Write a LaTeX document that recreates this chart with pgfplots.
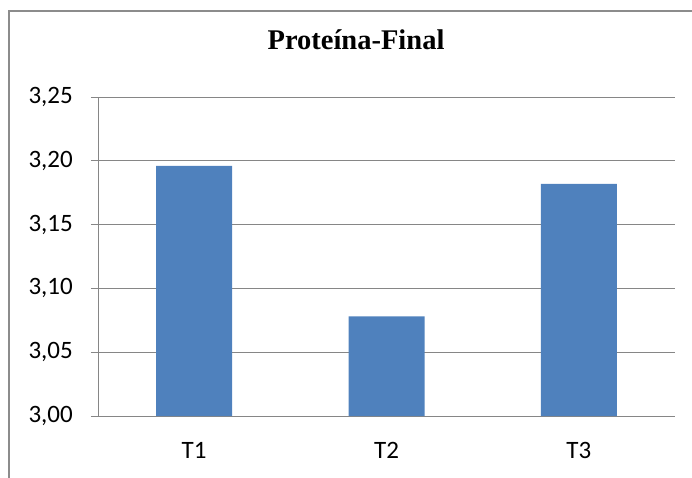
\documentclass[border=0pt]{standalone}
\usepackage{fontspec}
\setmainfont{Carlito}
\newfontfamily\titlefont{Liberation Serif}
\usepackage{pgfplots}
\pgfplotsset{compat=1.18}
\definecolor{barblue}{HTML}{4F81BD}
\definecolor{gridgray}{HTML}{868686}
\definecolor{framegray}{HTML}{8C8C8C}
\begin{document}
\begin{tikzpicture}[x=1pt,y=1pt]
\path[use as bounding box] (0,0) rectangle (692,477);
\begin{scope}
\clip (0,0) rectangle (692,477);
\draw[framegray, line width=2.5pt] (9,-20) -- (9,466) -- (720,466);
\end{scope}
\node[anchor=base, font=\titlefont\bfseries\fontsize{28.5}{33}\selectfont] at (356,427) {Proteína-Final};
\begin{axis}[
  at={(98pt,61pt)}, anchor=south west,
  scale only axis, width=577pt, height=319pt,
  xmin=0.5, xmax=3.5, ymin=3.0, ymax=3.25,
  ytick={3.00,3.05,3.10,3.15,3.20,3.25},
  xtick={1,2,3}, xticklabels={T1,T2,T3},
  x tick style={draw=none},
  extra x ticks={0.5,1.5,2.5,3.5},
  extra x tick labels={},
  extra x tick style={grid=none, tick style={draw=gridgray, line width=1pt}, major tick length=7pt},
  y tick style={draw=gridgray, line width=1pt},
  major tick length=7pt,
  tick align=outside,
  axis x line*=bottom, axis y line*=left,
  axis line style={draw=gridgray, line width=1pt},
  ymajorgrids, grid style={draw=gridgray, line width=1pt},
  /pgf/number format/.cd, use comma, fixed, fixed zerofill, precision=2, assume math mode=true,
  /pgfplots/.cd,
  ticklabel style={font=\fontsize{25}{30}\selectfont, text=black},
  yticklabel style={inner sep=0pt, anchor=east, xshift=-18pt},
  xticklabel style={inner sep=0pt, anchor=north, yshift=-19pt},
  ybar, bar width=76pt,
]
\addplot[fill=barblue, draw=none] coordinates {(1,3.196) (2,3.078) (3,3.182)};
\end{axis}
\end{tikzpicture}
\end{document}
